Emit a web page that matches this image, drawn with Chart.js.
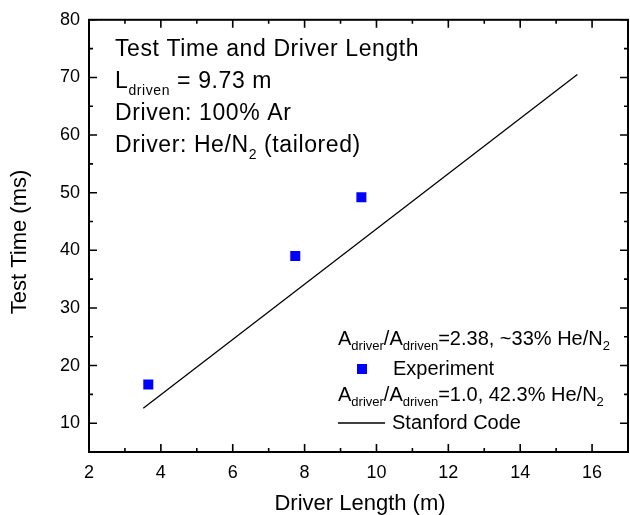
<!DOCTYPE html>
<html>
<head>
<meta charset="utf-8">
<script src="https://cdn.jsdelivr.net/npm/chart.js@4"></script>
<style>
  body { margin: 0; background: #fff; }
  canvas { display: block; }
</style>
</head>
<body>
<canvas id="testTime" width="630" height="515"></canvas>
<script>
// axis ticks
var xTicks = [2, 4, 6, 8, 10, 12, 14, 16];
var yTicks = [10, 20, 30, 40, 50, 60, 70, 80];

// experiment: driver length (m) vs test time (ms)
var experimentLength = [3.65, 7.74, 9.58];
var experimentTime = [16.7, 39.0, 49.2];

// Stanford code prediction
var codeLength = [3.51, 15.59];
var codeTime = [12.6, 70.5];

var FONT = '"Liberation Sans", Arial, sans-serif';

function toPoints(xs, ys) {
  return xs.map(function (x, i) { return { x: x, y: ys[i] }; });
}

// text with subscripts: parts = [[text, isSub], ...]
function drawRich(ctx, parts, x, y, size, subSize, drop) {
  parts.forEach(function (p) {
    var sub = !!p[1];
    ctx.font = (sub ? subSize : size) + 'px ' + FONT;
    ctx.fillText(p[0], x, y + (sub ? drop : 0));
    x += ctx.measureText(p[0]).width;
  });
}

function drawTicks(ctx, scale, majors, minorStep, side, area) {
  var values = [];
  majors.forEach(function (v) {
    values.push([v, 8]);
    if (v + minorStep < scale.max) values.push([v + minorStep, 4]);
  });
  values.forEach(function (t) {
    var p = scale.getPixelForValue(t[0]);
    var len = t[1];
    ctx.beginPath();
    if (side === 'x') {
      ctx.moveTo(p, area.bottom); ctx.lineTo(p, area.bottom - len);
      ctx.moveTo(p, area.top); ctx.lineTo(p, area.top + len);
    } else {
      ctx.moveTo(area.left, p); ctx.lineTo(area.left + len, p);
      ctx.moveTo(area.right, p); ctx.lineTo(area.right - len, p);
    }
    ctx.stroke();
  });
}

var frameAndText = {
  id: 'frameAndText',
  afterDraw: function (chart) {
    var ctx = chart.ctx, a = chart.chartArea;
    ctx.save();
    ctx.strokeStyle = '#000';
    ctx.fillStyle = '#000';

    ctx.lineWidth = 1.6;
    drawTicks(ctx, chart.scales.x, xTicks, 1, 'x', a);
    drawTicks(ctx, chart.scales.y, yTicks, 5, 'y', a);

    ctx.lineWidth = 2;
    ctx.strokeRect(a.left, a.top, a.right - a.left, a.bottom - a.top);

    // axis titles
    ctx.font = '22px ' + FONT;
    ctx.textAlign = 'center';
    ctx.textBaseline = 'alphabetic';
    ctx.fillText('Driver Length (m)', 360, 510);
    ctx.save();
    ctx.translate(26, 242);
    ctx.rotate(-Math.PI / 2);
    ctx.fillText('Test Time (ms)', 0, 0);
    ctx.restore();

    // description block
    ctx.textAlign = 'left';
    ctx.letterSpacing = '0.6px';
    drawRich(ctx, [['Test Time and Driver Length']], 115, 56, 23, 14, 7);
    drawRich(ctx, [['L'], ['driven', 1], [' = 9.73 m']], 115, 88, 23, 14, 7);
    drawRich(ctx, [['Driven: 100% Ar']], 115, 120, 23, 14, 7);
    drawRich(ctx, [['Driver: He/N'], ['2', 1], [' (tailored)']], 115, 152, 23, 14, 7);
    ctx.letterSpacing = '0px';

    // legend
    drawRich(ctx, [['A'], ['driver', 1], ['/A'], ['driven', 1], ['=2.38, ~33% He/N'], ['2', 1]], 338, 345, 20, 13, 5);
    ctx.fillStyle = '#0000ff';
    ctx.fillRect(357, 364, 10, 10);
    ctx.fillStyle = '#000';
    drawRich(ctx, [['Experiment']], 393, 375, 20, 13, 5);
    drawRich(ctx, [['A'], ['driver', 1], ['/A'], ['driven', 1], ['=1.0, 42.3% He/N'], ['2', 1]], 338, 401, 20, 13, 5);
    ctx.lineWidth = 1.3;
    ctx.beginPath();
    ctx.moveTo(338, 423);
    ctx.lineTo(385, 423);
    ctx.stroke();
    drawRich(ctx, [['Stanford Code']], 392, 429, 20, 13, 5);

    ctx.restore();
  }
};

new Chart(document.getElementById('testTime').getContext('2d'), {
  type: 'scatter',
  data: {
    datasets: [{
      label: 'Stanford Code',
      data: toPoints(codeLength, codeTime),
      showLine: true,
      borderColor: '#000',
      borderWidth: 1.3,
      pointRadius: 0,
      pointHoverRadius: 0
    }, {
      label: 'Experiment',
      data: toPoints(experimentLength, experimentTime),
      pointStyle: 'rect',
      pointRadius: 7.07,
      pointHoverRadius: 7.07,
      backgroundColor: '#0000ff',
      borderWidth: 0
    }]
  },
  options: {
    responsive: false,
    animation: false,
    devicePixelRatio: 1,
    layout: { autoPadding: false, padding: { top: 17, right: 2, left: 0, bottom: 0 } },
    plugins: { legend: { display: false }, tooltip: { enabled: false } },
    scales: {
      x: {
        type: 'linear',
        min: 2,
        max: 17,
        grid: { display: false, drawTicks: false },
        border: { display: false },
        ticks: { color: '#000', font: { family: FONT, size: 18 }, padding: 10 },
        afterBuildTicks: function (s) { s.ticks = xTicks.map(function (v) { return { value: v }; }); },
        afterFit: function (s) { s.height = 63; s.paddingLeft = 0; s.paddingRight = 0; }
      },
      y: {
        type: 'linear',
        min: 5,
        max: 80,
        grid: { display: false, drawTicks: false },
        border: { display: false },
        ticks: { color: '#000', font: { family: FONT, size: 18 }, padding: 9 },
        afterBuildTicks: function (s) { s.ticks = yTicks.map(function (v) { return { value: v }; }); },
        afterFit: function (s) { s.width = 89; }
      }
    }
  },
  plugins: [frameAndText]
});
</script>
</body>
</html>
